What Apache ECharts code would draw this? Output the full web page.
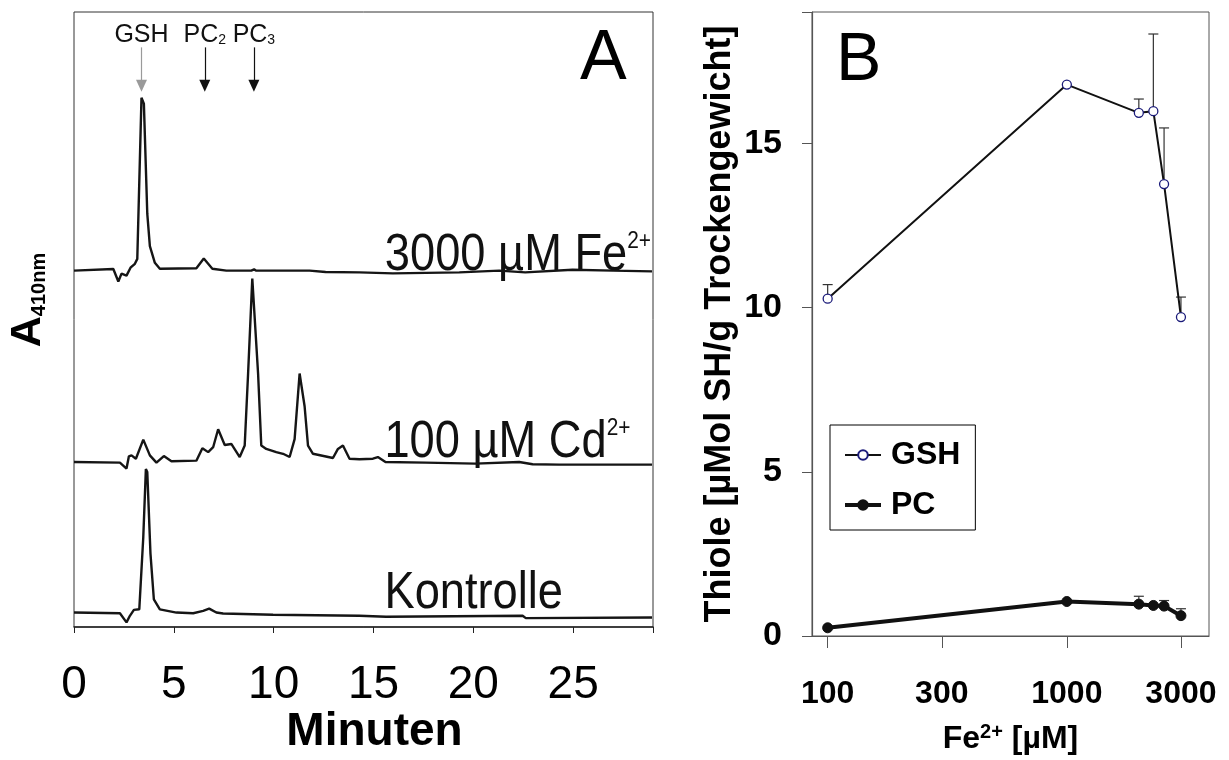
<!DOCTYPE html>
<html><head><meta charset="utf-8">
<script src="https://cdn.jsdelivr.net/npm/echarts@6/dist/echarts.min.js"></script>
<style>html,body{margin:0;padding:0;background:#fff}#c{width:1229px;height:760px}</style>
</head><body><div id="c"></div>
<script>
// ---------- Panel A: HPLC chromatograms [time (min), signal (a.u.)] ----------
const feTrace = [[0,0],[1.97,1.7],[2.05,1],[2.22,-11],[2.38,-3],[2.63,-5],[2.83,3],[3.05,7],[3.17,12],[3.38,176],[3.5,170],[3.67,58],[3.8,25],[4.05,8],[4.3,2],[6.13,2.5],[6.5,12.3],[6.93,2],[7.63,0],[8.88,0],[9.02,1.3],[9.13,0],[11.8,0],[12.6,-1.3],[14.3,-1.7],[15.97,-2.7],[19.3,-1.7],[21.3,0],[22.6,-1.7],[24.97,1],[27,0],[28.95,-0.7]];
const cdTrace = [[0,0],[2.3,-0.7],[2.63,-6.7],[2.75,5.7],[2.88,6.7],[3.1,3.3],[3.47,22.7],[3.8,6.7],[4.13,-0.7],[4.5,6],[4.88,0.7],[6.13,1.3],[6.43,14],[6.72,10],[6.97,15],[7.22,33.3],[7.55,17.3],[7.88,18.3],[8.3,5],[8.55,16.7],[8.72,90],[8.93,186.7],[9.02,185],[9.22,90],[9.38,16.7],[9.63,13.3],[10.13,10],[10.47,8.3],[10.8,5],[11.05,23.3],[11.3,90],[11.38,91.7],[11.55,56.7],[11.72,16.7],[11.97,8.3],[12.97,4],[13.22,13.3],[13.47,16.7],[13.8,3.3],[14.3,2.7],[14.97,3.3],[15.22,5],[15.6,0],[17.6,-0.7],[20.1,-1.7],[22.3,0],[22.97,-2.3],[24.3,-2.7],[28.95,-2.7]];
const kontrolleTrace = [[0,0],[2.3,-0.7],[2.63,-10],[2.8,-3.3],[3.0,2.7],[3.27,3.3],[3.47,76.7],[3.6,146],[3.67,143],[3.83,60],[4.0,13.3],[4.3,3.3],[5.13,0],[5.97,-0.7],[6.47,1.7],[6.77,4],[7.13,0],[7.47,-1],[9.97,-2.3],[14.3,-3.3],[15.63,-4.3],[22.47,-3.3],[22.63,-5.7],[28.95,-5]];
const traceNames = ['Kontrolle', '100 µM Cd', '3000 µM Fe'];
const traceShift = [14.7, 168, 362.7];   // vertical stacking of the chromatograms
const peakNames = ['GSH', 'PC2', 'PC3'];
const peakTimes = [3.38, 6.55, 9.01];
const minuteTicks = [0, 5, 10, 15, 20, 25];

// ---------- Panel B: thiols vs Fe2+ ----------
const feConc = [100, 1000, 2000, 2300, 2550, 3000];
const gshVals = [10.27, 16.79, 15.93, 15.98, 13.76, 9.71];
const gshErrTop = [10.7, null, 16.35, 18.33, 15.47, 10.32];
const pcVals = [0.25, 1.05, 0.97, 0.93, 0.91, 0.62];
const pcErrTop = [null, null, 1.21, null, 1.08, 0.83];
const concTicks = [100, 300, 1000, 3000];
const thiolTicks = [0, 5, 10, 15];

const ARIAL = "'Liberation Sans', Arial, sans-serif";
const chart = echarts.init(document.getElementById('c'), null, {renderer:'canvas'});

function shifted(tr, k){ return tr.map(p => [p[0], p[1] + traceShift[k]]); }

function errSeries(vals, tops, color){
  const d = [];
  feConc.forEach((x,i)=>{ if (tops[i]!=null) d.push([x, vals[i], tops[i]]); });
  return {
    type:'custom', xAxisIndex:1, yAxisIndex:1, z:1, silent:true, animation:false,
    data:d, encode:{x:0, y:[1,2]},
    renderItem:(params, api)=>{
      const p0 = api.coord([api.value(0), api.value(1)]);
      const p1 = api.coord([api.value(0), api.value(2)]);
      const st = {stroke:color, lineWidth:1.2};
      return {type:'group', children:[
        {type:'line', shape:{x1:p0[0],y1:p0[1],x2:p1[0],y2:p1[1]}, style:st},
        {type:'line', shape:{x1:p1[0]-5,y1:p1[1],x2:p1[0]+5,y2:p1[1]}, style:st}
      ]};
    }
  };
}

const subRich = {
  b:{fontFamily:ARIAL, fontSize:25, color:'#111'},
  s:{fontFamily:ARIAL, fontSize:14, color:'#111', verticalAlign:'bottom', padding:[8,0,0,0]}
};
function peakLabel(n){ return n.startsWith('PC') ? '{b|PC}{s|'+n.slice(2)+'}' : '{b|'+n+'}'; }

const markData = peakNames.map((n,i)=>[
  {coord:[peakTimes[i], 590], name:n, lineStyle:{color: i===0 ? '#9a9a9a' : '#111'}},
  {coord:[peakTimes[i], 551]}
]);

const option = {
  animation:false,
  backgroundColor:'#fff',
  grid:[
    {left:74, top:12, width:579, height:626, show:true, borderColor:'#333', borderWidth:1, backgroundColor:'transparent'},
    {left:812, top:12, width:397, height:628, show:true, borderColor:'#555', borderWidth:1, backgroundColor:'transparent'}
  ],
  xAxis:[
    {type:'value', gridIndex:0, min:0, max:29, interval:5,
     axisLine:{show:true, onZero:false, lineStyle:{color:'#222', width:1.5}},
     axisTick:{show:true, inside:false, length:6, lineStyle:{color:'#222'}},
     axisLabel:{show:true, margin:35, color:'#000', fontFamily:ARIAL, fontSize:46,
       formatter:v=> minuteTicks.includes(v) ? String(v) : ''},
     splitLine:{show:false},
     name:'Minuten', nameLocation:'middle', nameGap:82, nameMoveOverlap:false,
     nameTextStyle:{fontFamily:ARIAL, fontWeight:'bold', fontSize:46, color:'#000', padding:[0,0,0,22]}
    },
    {type:'log', gridIndex:1, min:86, max:3930, logBase:10,
     axisLine:{show:true, onZero:false, lineStyle:{color:'#555', width:1.2}},
     axisTick:{show:true, inside:false, length:12, customValues:concTicks, lineStyle:{color:'#555'}},
     axisLabel:{show:true, margin:42, customValues:concTicks, color:'#000', fontFamily:ARIAL, fontWeight:'bold', fontSize:32,
       formatter:v=>String(Math.round(v))},
     minorTick:{show:false}, splitLine:{show:false},
     name:'{n|Fe}{sup|2+}{n| [µM]}', nameLocation:'middle', nameGap:86, nameMoveOverlap:false,
     nameTextStyle:{rich:{
       n:{fontFamily:ARIAL, fontWeight:'bold', fontSize:32, color:'#000'},
       sup:{fontFamily:ARIAL, fontWeight:'bold', fontSize:20, color:'#000', verticalAlign:'top', padding:[0,0,14,0]}
     }}
    }
  ],
  yAxis:[
    {type:'value', gridIndex:0, min:0, max:626,
     axisLine:{show:false}, axisTick:{show:false}, axisLabel:{show:false}, splitLine:{show:false}
    },
    {type:'value', gridIndex:1, min:0, max:19, interval:5,
     axisLine:{show:true, onZero:false, lineStyle:{color:'#555', width:1.2}},
     axisTick:{show:true, inside:false, length:10, lineStyle:{color:'#555'}},
     axisLabel:{show:true, margin:30, color:'#000', fontFamily:ARIAL, fontWeight:'bold', fontSize:34,
       formatter:v=> thiolTicks.includes(v) ? String(v) : ''},
     splitLine:{show:false},
     name:'Thiole [µMol SH/g Trockengewicht]', nameLocation:'middle', nameGap:74, nameRotate:90, nameMoveOverlap:false,
     nameTextStyle:{fontFamily:ARIAL, fontWeight:'bold', fontSize:36, color:'#000'}
    }
  ],
  legend:{
    show:true, orient:'vertical', left:830, top:425,
    backgroundColor:'#fff', borderColor:'#000', borderWidth:1,
    padding:[14,15,9,13], itemGap:18, itemWidth:36, itemHeight:12,
    data:[{name:'GSH'}, {name:'PC', lineStyle:{width:4}}],
    textStyle:{fontFamily:ARIAL, fontWeight:'bold', fontSize:32, color:'#000', padding:[0,0,0,5]}
  },
  series:[
    ...[kontrolleTrace, cdTrace, feTrace].map((tr,k)=>({
      type:'line', name:traceNames[k], xAxisIndex:0, yAxisIndex:0, data:shifted(tr,k),
      showSymbol:false, symbol:'none', smooth:false, silent:true,
      lineStyle:{color:'#151515', width:2.4},
      markLine: k===2 ? {
        silent:true, animation:false, symbol:['none','triangle'], symbolSize:[11,12],
        lineStyle:{color:'#111', width:1.2, type:'solid'},
        label:{show:true, position:'start', distance:0, formatter:p=>peakLabel(p.name), rich:subRich},
        data:markData
      } : undefined
    })),
    errSeries(gshVals, gshErrTop, '#333'),
    errSeries(pcVals, pcErrTop, '#333'),
    {type:'line', name:'GSH', xAxisIndex:1, yAxisIndex:1, z:3,
     data:feConc.map((x,i)=>[x,gshVals[i]]),
     symbol:'circle', symbolSize:9, showSymbol:true,
     lineStyle:{color:'#111', width:2}, itemStyle:{color:'#fff', borderColor:'#1b1b7a', borderWidth:1.3}},
    {type:'line', name:'PC', xAxisIndex:1, yAxisIndex:1, z:3,
     data:feConc.map((x,i)=>[x,pcVals[i]]),
     symbol:'circle', symbolSize:10, showSymbol:true,
     lineStyle:{color:'#111', width:4}, itemStyle:{color:'#111', borderColor:'#111', borderWidth:1}}
  ],
  graphic:[
    {type:'text', left:580, top:25, style:{text:'A', fontFamily:ARIAL, fontSize:70, fill:'#000'}},
    {type:'text', left:836, top:27, style:{text:'B', fontFamily:ARIAL, fontSize:68, fill:'#000'}},
    {type:'text', x:28, y:300, rotation:Math.PI/2,
     style:{text:'{a|A}{s|410nm}', align:'center', verticalAlign:'middle', rich:{
       a:{fontFamily:ARIAL, fontWeight:'bold', fontSize:43, fill:'#000'},
       s:{fontFamily:ARIAL, fontWeight:'bold', fontSize:20, fill:'#000', verticalAlign:'bottom', padding:[12,0,0,0]}
     }}}
  ]
};
chart.setOption(option);

// trace annotations, anchored in data coordinates of panel A (narrow-looking type)
const supR = {
  n:{fontFamily:ARIAL, fontSize:52, fill:'#111'},
  sup:{fontFamily:ARIAL, fontSize:24, fill:'#111', verticalAlign:'top', padding:[0,0,22,0]}
};
const annot = [
  {t:'{n|3000 µM Fe}{sup|2+}', x:28.9, y:traceShift[2]+3.3, align:'right'},
  {t:'{n|100 µM Cd}{sup|2+}', x:15.55, y:traceShift[1]+7.3, align:'left'},
  {t:'{n|Kontrolle}', x:15.55, y:traceShift[0]+6.6, align:'left'}
];
const g = option.graphic.slice();
annot.forEach(a=>{
  const p = chart.convertToPixel({gridIndex:0}, [a.x, a.y]);
  g.push({type:'text', x:p[0], y:p[1]+14, scaleX:0.87,
    style:{text:a.t, rich:supR, align:a.align, verticalAlign:'bottom'}});
});
chart.setOption({graphic:g}, {replaceMerge:['graphic']});
</script></body></html>
